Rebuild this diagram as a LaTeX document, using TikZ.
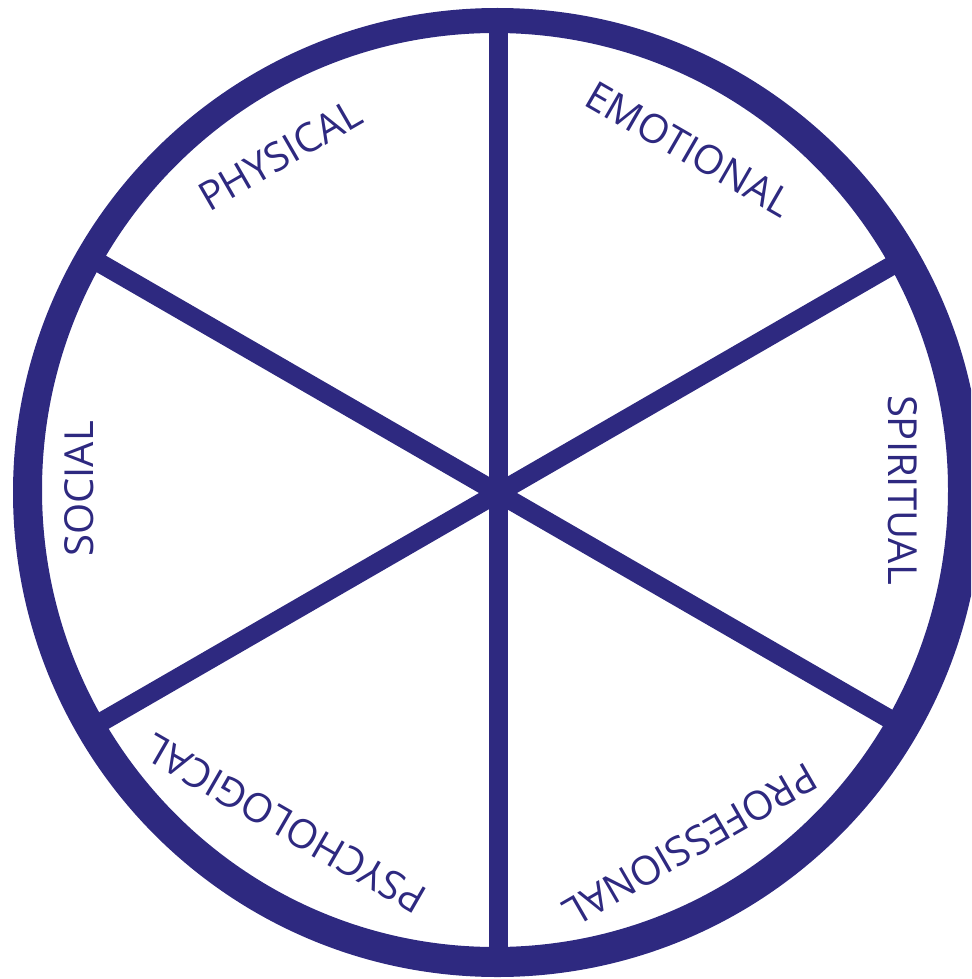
\documentclass[tikz,border=0pt]{standalone}
\usepackage{fontspec}
\setmainfont{Open Sans}
\usetikzlibrary{calc}
\definecolor{wheelblue}{RGB}{46,41,128}
\begin{document}
\begin{tikzpicture}[x=1pt,y=-1pt,
  ring/.style={fill=wheelblue,even odd rule},
  spoke/.style={draw=wheelblue,line width=19pt},
  lbl/.style={text=wheelblue,inner sep=0pt,font=\fontsize{40}{48}\selectfont}]
\useasboundingbox (0,0) rectangle (971,979);
\begin{scope}
\clip (0,0) rectangle (971,979);
\coordinate (c) at (498,493);
\foreach \a in {90,30,-30} {
  \draw[spoke] ($(c)+(\a:-470)$) -- ($(c)+(\a:470)$);
}
\path[ring] (497.5,492.5) circle (484.5) (495,490) ellipse (453 and 457);
\end{scope}
\node[lbl,rotate=30]  (physical) at (280,155) {PHYSICAL};
\node[lbl,rotate=-30] (emotional) at (689,149) {EMOTIONAL};
\node[lbl,rotate=-90] (spiritual) at (903,490) {SPIRITUAL};
\node[lbl,rotate=90]  (social) at (79,489) {SOCIAL};
\node[lbl,rotate=210] (professional) at (690,845) {PROFESSIONAL};
\node[lbl,rotate=150] (psychological) at (285,824) {PSYCHOLOGICAL};
\end{tikzpicture}
\end{document}
